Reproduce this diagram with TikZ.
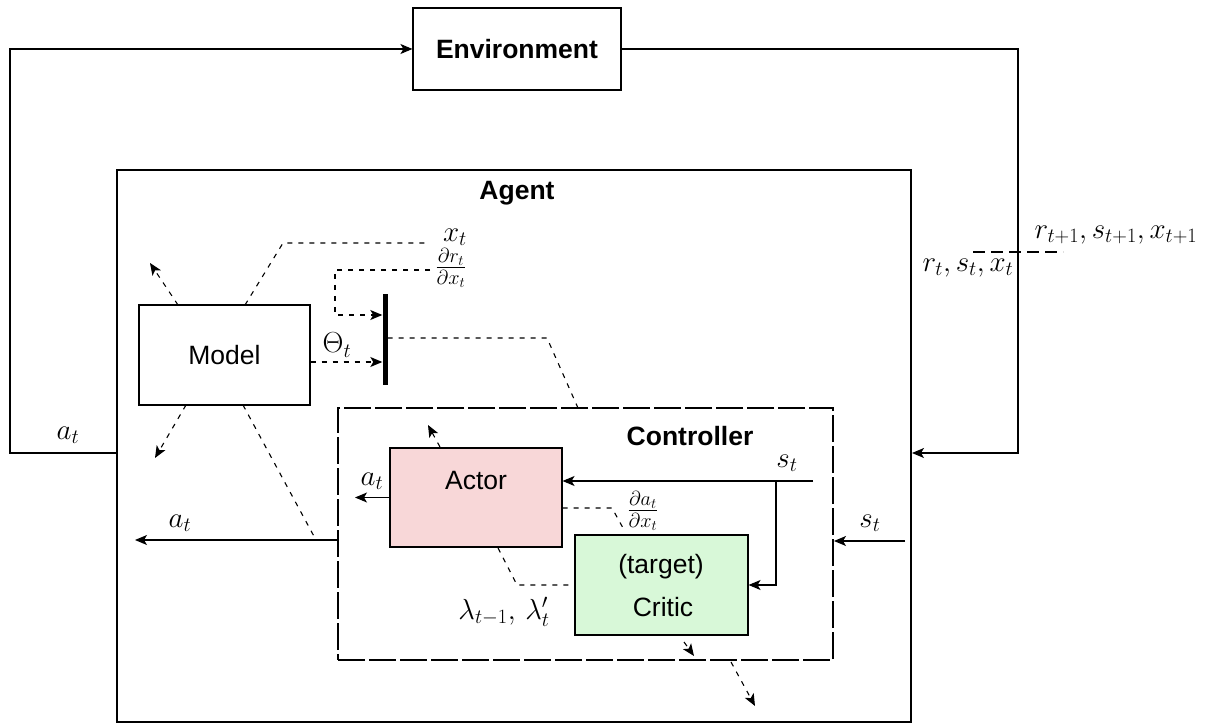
\documentclass[tikz,border=0pt]{standalone}
\usepackage{fontspec}
\setsansfont{Liberation Sans}
\DeclareFontFamily{OML}{cmm}{\skewchar\font127 }
\DeclareFontShape{OML}{cmm}{m}{it}{<-6>cmmi5<6-7>cmmi6<7-8>cmmi7<8-9>cmmi8<9-10>cmmi9<10-12>cmmi10<12->cmmi12}{}
\DeclareFontFamily{OMS}{cmsy}{\skewchar\font48 }
\DeclareFontShape{OMS}{cmsy}{m}{n}{<-6>cmsy5<6-7>cmsy6<7-8>cmsy7<8-9>cmsy8<9-10>cmsy9<10->cmsy10}{}
\DeclareFontFamily{OT1}{cmr}{\hyphenchar\font45 }
\DeclareFontShape{OT1}{cmr}{m}{n}{<-6>cmr5<6-7>cmr6<7-8>cmr7<8-9>cmr8<9-10>cmr9<10-12>cmr10<12-17>cmr12<17->cmr17}{}
\usetikzlibrary{arrows.meta,calc}
\begin{document}
\begin{tikzpicture}[x=1pt,y=-1pt,
  every node/.style={font=\fontsize{29}{33}\selectfont},
  box/.style={draw,line width=1.1pt,inner sep=0pt,font=\sffamily\fontsize{26.5}{30}\selectfont},
  title/.style={font=\sffamily\bfseries\fontsize{26.5}{30}\selectfont},
  lbl/.style={inner sep=1pt},
  conn/.style={line width=1.1pt},
  dsh/.style={line width=1.1pt,dash pattern=on 5pt off 6pt},
  tip/.style={-{Stealth[length=12pt,width=10pt,inset=3pt]}}
]
\useasboundingbox (0,0) rectangle (1218,727);
% boxes
\node[box,minimum width=208pt,minimum height=82pt,font=\sffamily\bfseries\fontsize{26.5}{30}\selectfont] (env) at (517,49) {Environment};
\node[draw,line width=2pt,minimum width=794pt,minimum height=552pt,inner sep=0pt] (agent) at (514,446) {};
\node[title] (agentlbl) at (517,193) {Agent};
\node[box,minimum width=171pt,minimum height=100pt] (model) at (224.5,355) {Model};
\node[fill=black,minimum width=5pt,minimum height=91pt,inner sep=0pt] (bar) at (385,339.5) {};
\node[draw,line width=2pt,dash pattern=on 27pt off 4pt,minimum width=495pt,minimum height=252pt,inner sep=0pt] (ctrl) at (585.5,534) {};
\node[title] (ctrllbl) at (690,436) {Controller};
\node[box,fill={rgb,255:red,248;green,215;blue,216},minimum width=172pt,minimum height=99pt] (actor) at (476,497.5) {};
\node[font=\sffamily\fontsize{26.5}{30}\selectfont] (actorlbl) at (476,481) {Actor};
\node[box,fill={rgb,255:red,216;green,248;blue,216},minimum width=173pt,minimum height=100pt] (critic) at (661.5,585) {};
\node[font=\sffamily\fontsize{26.5}{30}\selectfont] (criticlbl1) at (661,567) {(target)};
\node[font=\sffamily\fontsize{26.5}{30}\selectfont] (criticlbl2) at (663,607) {Critic};
% labels
\node[lbl] (xt) at (455,237) {$x_t$};
\node[lbl] (drdx) at (451,268) {$\frac{\partial r_t}{\partial x_t}$};
\node[lbl] (theta) at (337,345) {$\Theta_t$};
\node[lbl] (at1) at (68,435) {$a_t$};
\node[lbl] (at2) at (372,481) {$a_t$};
\node[lbl] (at3) at (180,523) {$a_t$};
\node[lbl] (st1) at (787,463) {$s_t$};
\node[lbl] (st2) at (870,523) {$s_t$};
\node[lbl] (dadx) at (643,511) {$\frac{\partial a_t}{\partial x_t}$};
\node[lbl] (lam) at (504,612) {$\lambda_{t-1},\,\lambda'_t$};
\node[lbl] (rnext) at (1116,235) {$r_{t+1},s_{t+1},x_{t+1}$};
\node[lbl] (rcur) at (968,268) {$r_t,s_t,x_t$};
% helper coordinates
\coordinate (y453) at (0,453);
\coordinate (y481) at (0,481);
\coordinate (y541) at (0,541);
\coordinate (y540) at (0,540);
\coordinate (y362) at (0,362);
\coordinate (y315) at (0,315);
\coordinate (y338) at (0,338);
% outer loop
\draw[conn,tip] (agent.west |- y453) -- (10,453) |- (env.west);
\draw[conn,tip] (env.east) -| (1018,453) -- (agent.east |- y453);
\coordinate (rdl) at (973,252);
\coordinate (rdr) at (1063,252);
\draw[line width=1.3pt,dash pattern=on 12pt off 6pt] (rdl) -- (rdr);
% model connectors
\coordinate (mtop1) at (178,305);
\coordinate (mtop1e) at (150,263);
\draw[dsh,tip] (mtop1) -- (mtop1e);
\coordinate (mtop2) at (245,305);
\draw[dsh] (mtop2) -- (283,243) -- (430,243);
\draw[dsh,tip] (430,270) -- (335,270) -- (335,315) -- (bar.west |- y315);
\draw[dsh,tip] (model.east |- y362) -- (bar.west |- y362);
\draw[dsh] (bar.east |- y338) -- (547,338) -- (578,408);
\coordinate (mbot1) at (186,405);
\coordinate (mbot1e) at (155,458);
\draw[dsh,tip] (mbot1) -- (mbot1e);
\coordinate (mbot2) at (243,405);
\coordinate (mbot2e) at (316,540);
\draw[dsh] (mbot2) -- (mbot2e);
% actor / critic
\coordinate (atop) at (440,447);
\coordinate (atope) at (428,425);
\draw[dsh,tip] (atop) -- (atope);
\coordinate (ataend) at (355,497.5);
\draw[conn,tip] (actor.west) -- (ataend);
\coordinate (ststart) at (813,481);
\coordinate (stbranch) at (776,481);
\draw[conn,tip] (ststart) -- (actor.east |- y481);
\draw[conn,tip] (stbranch) |- (critic.east);
\draw[dsh] (actor.east |- 0,508) -- (612,508) -- (623,528);
\draw[dsh] (498,548) -- (517,585) -- (critic.west);
\coordinate (cb1) at (684,642);
\coordinate (cb1e) at (694,656);
\draw[dsh,tip] (cb1) -- (cb1e);
\coordinate (cb2) at (731,662);
\coordinate (cb2e) at (755,706);
\draw[dsh,tip] (cb2) -- (cb2e);
\coordinate (st2start) at (905,541);
\draw[conn,tip] (st2start) -- (ctrl.east |- y541);
\coordinate (at3end) at (135,540);
\draw[conn,tip] (ctrl.west |- y540) -- (at3end);
\end{tikzpicture}
\end{document}
